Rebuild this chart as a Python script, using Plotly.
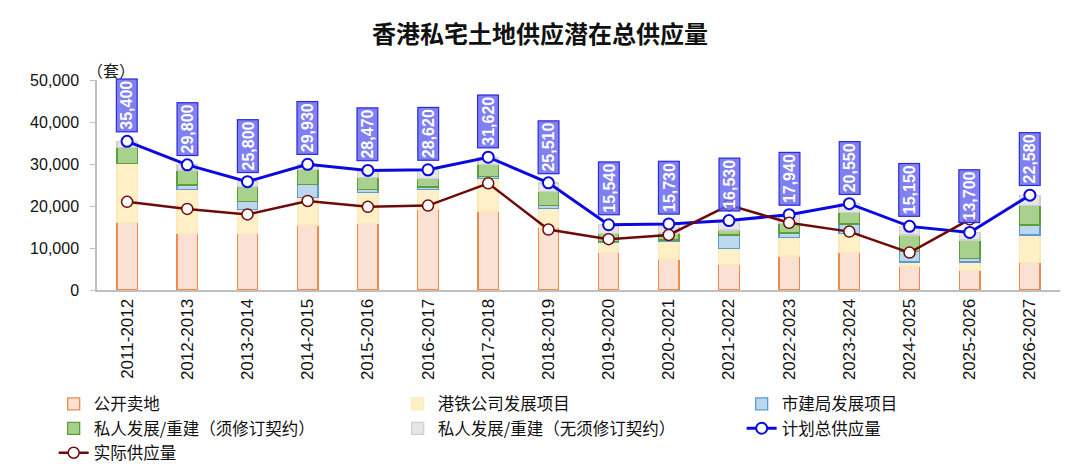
import plotly.graph_objects as go

years = [
    "2011-2012", "2012-2013", "2013-2014", "2014-2015", "2015-2016", "2016-2017",
    "2017-2018", "2018-2019", "2019-2020", "2020-2021", "2021-2022", "2022-2023",
    "2023-2024", "2024-2025", "2025-2026", "2026-2027",
]

# stacked components (units: 套)
public_sale = [16000, 13500, 13500, 15500, 15900, 19200, 18800, 15000, 8900, 7400, 6000, 8100, 8900, 5700, 4600, 6600]
mtr = [14200, 10500, 5700, 6500, 7300, 4800, 7800, 4400, 2400, 4100, 3900, 4400, 4600, 1000, 2100, 6500]
ura = [0, 1000, 1800, 3200, 800, 500, 500, 700, 300, 400, 3200, 1100, 2200, 2400, 800, 2400]
private_lease = [3800, 3600, 3600, 3500, 2800, 2100, 2700, 3300, 1900, 1700, 1200, 2300, 2700, 4000, 4400, 4600]
private_no_lease = [1400, 1200, 1200, 1230, 1670, 2020, 1820, 2110, 2040, 2130, 2230, 2040, 2150, 2050, 1800, 2480]

planned_total = [35400, 29800, 25800, 29930, 28470, 28620, 31620, 25510, 15540, 15730, 16530, 17940, 20550, 15150, 13700, 22580]
actual_supply = [21000, 19300, 18000, 21200, 19800, 20100, 25400, 14400, 12100, 13100, 20200, 16000, 13900, 8900, 16800, None]

bar_series = [
    ("公开卖地", public_sale, "#FBE1D3", "#F0894A"),
    ("港铁公司发展项目", mtr, "#FFF0C8", "#FDE9B8"),
    ("市建局发展项目", ura, "#BDD7EE", "#5B9BD5"),
    ("私人发展/重建（须修订契约）", private_lease, "#A9D18E", "#5E9E3A"),
    ("私人发展/重建（无须修订契约）", private_no_lease, "#E7E6E6", "#CFCFCF"),
]

fig = go.Figure()

for name, vals, fill, edge in bar_series:
    fig.add_trace(go.Bar(
        x=years, y=vals, name=name,
        marker=dict(color=fill, line=dict(color=edge, width=1.3)),
    ))

fig.add_trace(go.Scatter(
    x=years, y=planned_total, name="计划总供应量", mode="lines+markers",
    line=dict(color="#0A0AE0", width=3),
    marker=dict(symbol="circle", size=11, color="white", line=dict(color="#0A0AE0", width=2)),
))

fig.add_trace(go.Scatter(
    x=years, y=actual_supply, name="实际供应量", mode="lines+markers",
    line=dict(color="#6E0A0A", width=2.5),
    marker=dict(symbol="circle", size=11, color="white", line=dict(color="#6E0A0A", width=1.5)),
))

# rotated value labels above the planned-total points
for yr, v in zip(years, planned_total):
    fig.add_annotation(
        x=yr, y=v, text=f"<b>{v:,}</b>", textangle=-90, showarrow=False,
        yanchor="bottom", yshift=9,
        font=dict(family="Arial, Liberation Sans", size=16, color="white"),
        bgcolor="rgba(100,100,240,0.82)", bordercolor="#2A2AD8", borderwidth=1.2, borderpad=1.5,
    )

fig.add_annotation(
    x=-0.012, y=1.115, xref="paper", yref="paper", text="（套）", showarrow=False,
    font=dict(family="Noto Sans CJK SC", size=16, color="#222"),
)

fig.update_layout(
    width=1080, height=467,
    margin=dict(l=97, r=20, t=80, b=177, autoexpand=False),
    plot_bgcolor="white", paper_bgcolor="white",
    barmode="stack", bargap=0.66,
    title=dict(
        text="<b>香港私宅土地供应潜在总供应量</b>", x=0.5, xanchor="center", y=0.925, yanchor="middle",
        font=dict(family="Noto Sans CJK SC", size=24, color="#111"),
    ),
    showlegend=True,
    legend=dict(
        orientation="h", x=-0.045, xanchor="left", y=-0.46, yanchor="top",
        traceorder="normal", entrywidth=299, entrywidthmode="pixels", itemwidth=30,
        font=dict(family="Noto Sans CJK SC", size=16.5, color="#111"),
        tracegroupgap=0,
    ),
    font=dict(family="Arial, Liberation Sans", color="#222"),
)

fig.update_xaxes(
    type="category", range=[-0.5, len(years) - 0.5], tickangle=-90,
    showline=True, linecolor="#BFBFBF", linewidth=2,
    ticks="", showgrid=False, tickfont=dict(size=17, color="#111"), automargin=False,
)
fig.update_yaxes(
    range=[0, 50000], dtick=10000, tickformat=",", showline=True, linecolor="#BFBFBF", linewidth=1.5,
    ticks="outside", ticklen=5, tickcolor="#BFBFBF", showgrid=False, zeroline=False,
    tickfont=dict(size=16, color="#111"), ticklabelstandoff=8, automargin=False,
)

fig.write_html(
    "out.html",
    config={"displayModeBar": False},
    post_script="document.body.style.margin='0';",
)
